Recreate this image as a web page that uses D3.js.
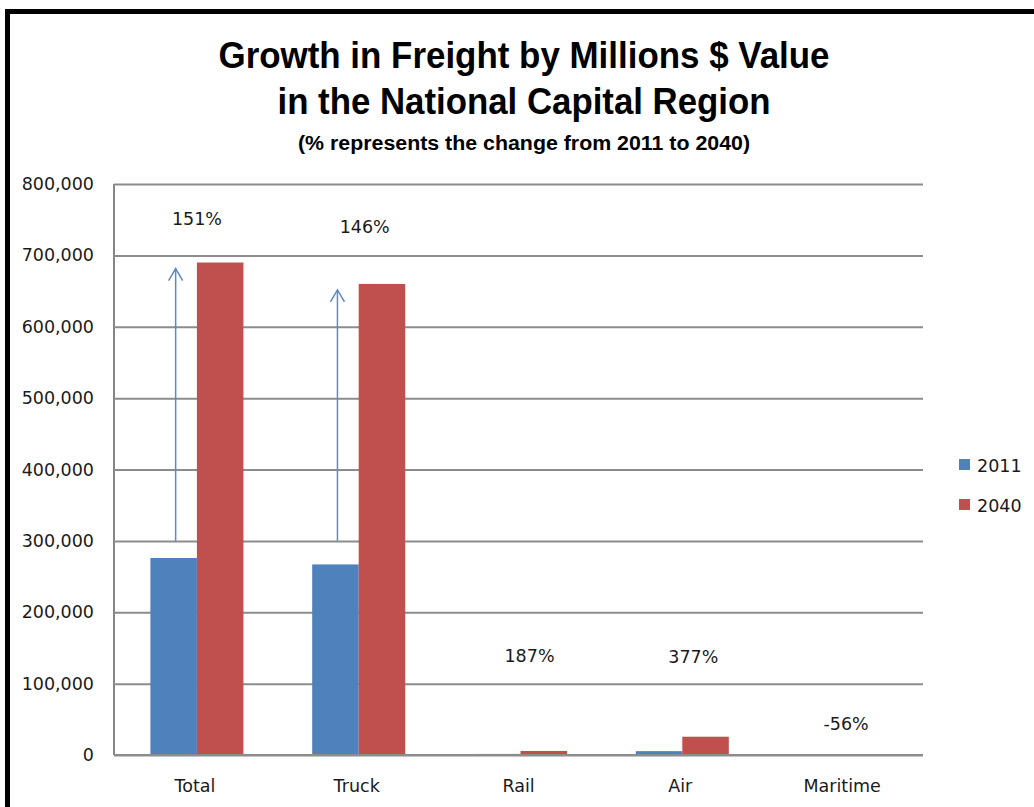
<!DOCTYPE html>
<meta charset="utf-8">
<script src="https://d3js.org/d3.v7.min.js"></script>
<style>
    body { margin: 0; background: #fff; }
    text { font-family: "DejaVu Sans", Verdana, sans-serif; }
</style>
<div id="base"></div>
<script>
    // values in millions of dollars
    var categories = ["Total", "Truck", "Rail", "Air", "Maritime"];
    var years = ["2011", "2040"];
    var values2011 = [276000, 267000, 1500, 5400, 500];
    var values2040 = [690000, 660000, 5700, 25600, 220];
    var growthLabels = ["151%", "146%", "187%", "377%", "-56%"];
    var growthLevel = [743000, 731000, 130000, 129000, 35000]; // where the % text sits
    var yTicks = [0, 100000, 200000, 300000, 400000, 500000, 600000, 700000, 800000];

    var colors = { "2011": "#4f81bd", "2040": "#c0504d" };

    var W = 1034, H = 807;
    var plotLeft = 114, plotRight = 923, plotTop = 184, plotBottom = 755;

    var svg = d3.select("#base")
        .append("svg")
        .attr("width", W)
        .attr("height", H);

    // frame around the picture
    svg.append("path")
        .attr("d", "M7.5," + H + "V11.5H" + W)
        .attr("fill", "none")
        .attr("stroke", "#000")
        .attr("stroke-width", 5);

    // titles
    var titles = [
        { t: "Growth in Freight by Millions $ Value", y: 68, size: 36, len: 611 },
        { t: "in the National Capital Region", y: 114, size: 36, len: 493 },
        { t: "(% represents the change from 2011  to  2040)", y: 150, size: 20, len: 452 }
    ];
    svg.selectAll(".title")
        .data(titles)
        .enter()
        .append("text")
        .attr("class", "title")
        .attr("x", 524)
        .attr("y", function (d) { return d.y; })
        .attr("text-anchor", "middle")
        .attr("textLength", function (d) { return d.len; })
        .attr("lengthAdjust", "spacingAndGlyphs")
        .style("font-family", "'Liberation Sans Narrow', 'Liberation Sans', Arial, sans-serif")
        .style("font-weight", "bold")
        .style("font-size", function (d) { return d.size + "px"; })
        .style("fill", "#000")
        .text(function (d) { return d.t; });

    var x0 = d3.scaleBand()
        .domain(categories)
        .range([plotLeft, plotRight])
        .paddingInner(0.425)
        .paddingOuter(0.2125);

    var x1 = d3.scaleBand()
        .domain(years)
        .range([0, x0.bandwidth()]);

    var y = d3.scaleLinear()
        .domain([0, 800000])
        .range([plotBottom, plotTop]);

    // gridlines + y labels
    var yAxis = svg.append("g")
        .attr("transform", "translate(" + plotLeft + ",0)")
        .call(d3.axisLeft(y)
            .tickValues(yTicks)
            .tickSize(-(plotRight - plotLeft))
            .tickPadding(20)
            .tickFormat(d3.format(",")));
    yAxis.select(".domain")
        .attr("stroke", "#868686")
        .attr("stroke-width", 2)
        .attr("d", "M0," + plotBottom + "V" + plotTop);
    yAxis.selectAll(".tick line")
        .attr("stroke", "#8c8c8c")
        .attr("stroke-width", 2);
    yAxis.selectAll(".tick text")
        .style("font-size", "17.5px")
        .style("fill", "#1a1a1a")
        .style("font-family", "'DejaVu Sans', sans-serif");

    var rows = categories.map(function (c, i) {
        return { cat: c, vals: [values2011[i], values2040[i]] };
    });

    // bars sit about 2px right of the label centres in the original
    var groups = svg.append("g")
        .attr("transform", "translate(2,0)")
        .selectAll("g")
        .data(rows)
        .enter()
        .append("g")
        .attr("transform", function (d) { return "translate(" + x0(d.cat) + ",0)"; });

    groups.selectAll("rect")
        .data(function (d) {
            return years.map(function (yr, j) { return { yr: yr, v: d.vals[j] }; });
        })
        .enter()
        .append("rect")
        .attr("x", function (d) { return x1(d.yr); })
        .attr("width", x1.bandwidth())
        .attr("y", function (d) { return y(d.v); })
        .attr("height", function (d) { return plotBottom - y(d.v); })
        .attr("fill", function (d) { return colors[d.yr]; });

    // redraw baseline on top of bars
    svg.append("line")
        .attr("x1", plotLeft).attr("x2", plotRight)
        .attr("y1", plotBottom).attr("y2", plotBottom)
        .attr("stroke", "#8c8c8c")
        .attr("stroke-width", 2);

    // category labels
    var xAxis = svg.append("g")
        .attr("transform", "translate(0," + plotBottom + ")")
        .call(d3.axisBottom(x0).tickSize(0).tickPadding(0));
    xAxis.select(".domain").remove();
    xAxis.selectAll(".tick text")
        .attr("y", 37)
        .attr("dy", 0)
        .style("font-size", "17.5px")
        .style("fill", "#1a1a1a")
        .style("font-family", "'DejaVu Sans', sans-serif");

    // growth arrows for Total and Truck
    var arrowColor = "#5b8ac6";
    [0, 1].forEach(function (i) {
        var ax = x0(categories[i]) + x1("2011") + x1.bandwidth() / 2 + 4;
        var y1 = y(300000), y2 = y(values2040[i]) + 6;
        svg.append("line")
            .attr("x1", ax).attr("x2", ax)
            .attr("y1", y1).attr("y2", y2)
            .attr("stroke", arrowColor)
            .attr("stroke-width", 1.5);
        svg.append("path")
            .attr("d", "M" + (ax - 7) + "," + (y2 + 12) + "L" + ax + "," + y2 + "L" + (ax + 7) + "," + (y2 + 12))
            .attr("fill", "none")
            .attr("stroke", arrowColor)
            .attr("stroke-width", 1.5);
    });

    // growth % labels
    var labelShift = [2, 8, 11, 13, 4];
    svg.append("g")
        .selectAll("text")
        .data(growthLabels)
        .enter()
        .append("text")
        .attr("x", function (d, i) { return x0(categories[i]) + x0.bandwidth() / 2 + labelShift[i]; })
        .attr("y", function (d, i) { return y(growthLevel[i]); })
        .attr("text-anchor", "middle")
        .style("font-size", "17.5px")
        .style("fill", "#1a1a1a")
        .text(function (d) { return d; });

    // legend
    var legend = svg.append("g")
        .selectAll("g")
        .data(years)
        .enter()
        .append("g")
        .attr("transform", function (d, i) { return "translate(959," + (459 + i * 40) + ")"; });
    legend.append("rect")
        .attr("width", 11)
        .attr("height", 11)
        .attr("fill", function (d) { return colors[d]; });
    legend.append("text")
        .attr("x", 18)
        .attr("y", 13)
        .style("font-size", "17.5px")
        .style("fill", "#1a1a1a")
        .text(function (d) { return d; });
</script>
